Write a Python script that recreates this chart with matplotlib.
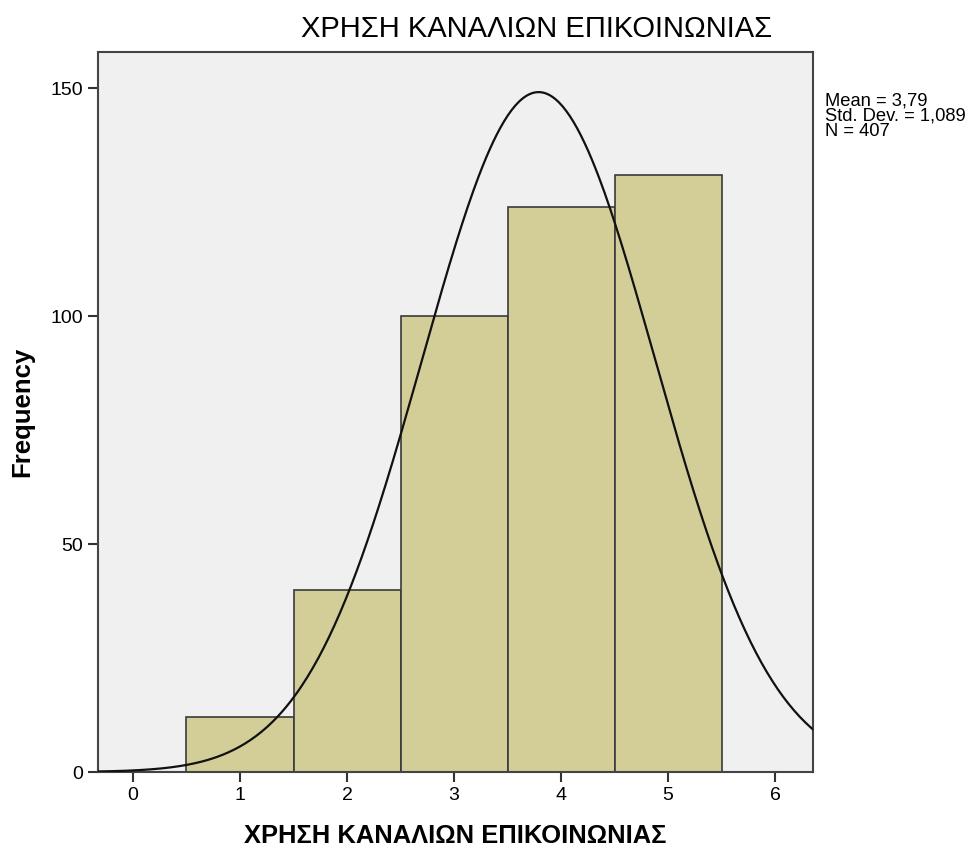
import numpy as np
import matplotlib.pyplot as plt

plt.rcParams['font.family'] = ['Liberation Sans', 'DejaVu Sans']

categories = [1, 2, 3, 4, 5]
frequencies = [12, 40, 100, 124, 131]
mean = 3.79
std_dev = 1.089
n_total = 407
title = "ΧΡΗΣΗ ΚΑΝΑΛΙΩΝ ΕΠΙΚΟΙΝΩΝΙΑΣ"


def draw():
    fig = plt.figure(figsize=(9.73, 8.48), dpi=100)
    ax = fig.add_axes([0.1007, 0.0896, 0.735, 0.8491])
    ax.set_facecolor('#f0f0f0')

    ax.bar(categories, frequencies, width=1.0, color='#d3ce98',
           edgecolor='#3a3a3a', linewidth=1.2, zorder=2)

    xs = np.linspace(-0.4, 6.4, 400)
    ys = n_total / (std_dev * np.sqrt(2 * np.pi)) * np.exp(-0.5 * ((xs - mean) / std_dev) ** 2)
    ax.plot(xs, ys, color='#111111', linewidth=1.6, zorder=3)

    ax.set_xlim(-0.327, 6.355)
    ax.set_ylim(0, 157.9)
    ax.set_xticks(range(7))
    ax.set_yticks([0, 50, 100, 150])
    ax.tick_params(axis='both', labelsize=14, length=7, width=1.5, color='#333333')
    for s in ax.spines.values():
        s.set_color('#444444')
        s.set_linewidth(1.5)

    fig.text(537 / 973, 1 - 29 / 848, title, fontsize=21, ha='center', va='center')
    ax.set_xlabel(title, fontsize=18.4, fontweight='bold', labelpad=14.5)
    ax.set_ylabel("Frequency", fontsize=18.5, fontweight='bold', labelpad=12)

    fig.text(0.848, 0.8915, "Mean = 3,79\nStd. Dev. = 1,089\nN = 407",
             fontsize=13.2, va='top', ha='left', linespacing=0.9)

    fig.savefig('out.png', dpi=100)


draw()
